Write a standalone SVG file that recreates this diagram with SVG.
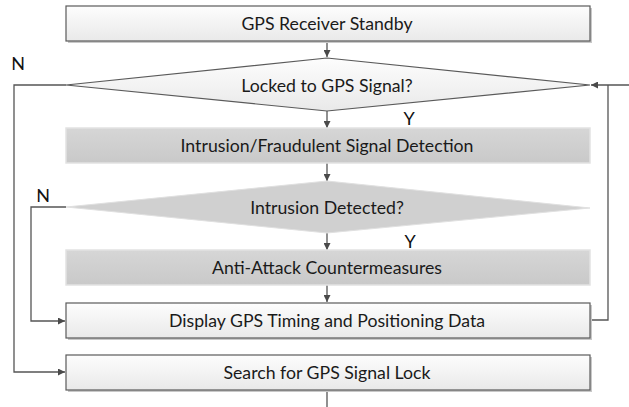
<svg xmlns="http://www.w3.org/2000/svg" width="629" height="407" viewBox="0 0 629 407">
  <defs>
    <linearGradient id="lightFill" x1="0" y1="0" x2="0" y2="1">
      <stop offset="0" stop-color="#fdfdfd"/>
      <stop offset="1" stop-color="#e9e9e9"/>
    </linearGradient>
    <linearGradient id="grayFill" x1="0" y1="0" x2="0" y2="1">
      <stop offset="0" stop-color="#d6d6d6"/>
      <stop offset="1" stop-color="#c9c9c9"/>
    </linearGradient>
    <marker id="arrow" viewBox="0 0 10 10" refX="10" refY="5" markerWidth="7" markerHeight="7" markerUnits="userSpaceOnUse" orient="auto">
      <path d="M0,0 L10,5 L0,10 z" fill="#4a4a4a"/>
    </marker>
  </defs>
  <style>
    .box { fill: url(#lightFill); stroke: #5a5a5a; stroke-width: 1.2; }
    .shadow { fill: #c8c8c8; }
    .gbox { fill: url(#grayFill); stroke: #e2e2e2; stroke-width: 1.5; }
    .dia { fill: url(#lightFill); stroke: #5a5a5a; stroke-width: 1.2; }
    .gdia { fill: #d0d0d0; stroke: #e0e0e0; stroke-width: 1; }
    .lbl { font-family: Lato, "Liberation Sans", sans-serif; font-size: 17.7px; fill: #1a1a1a; text-anchor: middle; }
    .yn { font-family: Lato, "Liberation Sans", sans-serif; font-size: 18px; fill: #111; text-anchor: middle; }
    .conn { fill: none; stroke: #555; stroke-width: 1.3; }
  </style>

  <g id="connectors">
    <line class="conn" x1="327" y1="41" x2="327" y2="57" marker-end="url(#arrow)"/>
    <line class="conn" x1="327" y1="111" x2="327" y2="128" marker-end="url(#arrow)"/>
    <line class="conn" x1="327" y1="163" x2="327" y2="181" marker-end="url(#arrow)"/>
    <line class="conn" x1="327" y1="233" x2="327" y2="250" marker-end="url(#arrow)"/>
    <line class="conn" x1="327" y1="285" x2="327" y2="302" marker-end="url(#arrow)"/>
    <line class="conn" x1="327" y1="390" x2="327" y2="407"/>
    <polyline class="conn" points="66,85 14,85 14,372 65,372" marker-end="url(#arrow)"/>
    <polyline class="conn" points="66,207 31,207 31,321 65,321" marker-end="url(#arrow)"/>
    <polyline class="conn" points="590,320 608,320 608,85"/>
    <line class="conn" x1="629" y1="85" x2="591" y2="85" marker-end="url(#arrow)"/>
  </g>

  <g id="standby">
    <rect class="shadow" x="68" y="8" width="524" height="35"/>
    <rect class="box" x="66" y="6" width="524" height="35"/>
    <text class="lbl" x="327" y="30">GPS Receiver Standby</text>
  </g>

  <g id="locked">
    <polygon class="dia" points="66,85 327,58 590,85 327,111"/>
    <text class="lbl" x="327" y="92">Locked to GPS Signal?</text>
    <text class="yn" x="18" y="70">N</text>
    <text class="yn" x="409" y="125">Y</text>
  </g>

  <g id="detection">
    <rect class="gbox" x="66" y="128" width="524" height="35"/>
    <text class="lbl" x="327" y="152">Intrusion/Fraudulent Signal Detection</text>
  </g>

  <g id="intrusion">
    <polygon class="gdia" points="66,207 327,181 590,208 327,233"/>
    <text class="lbl" x="327" y="214">Intrusion Detected?</text>
    <text class="yn" x="43" y="202">N</text>
    <text class="yn" x="410" y="248">Y</text>
  </g>

  <g id="countermeasures">
    <rect class="gbox" x="66" y="250" width="524" height="35"/>
    <text class="lbl" x="327" y="274">Anti-Attack Countermeasures</text>
  </g>

  <g id="display">
    <rect class="shadow" x="68" y="305" width="524" height="35"/>
    <rect class="box" x="66" y="303" width="524" height="35"/>
    <text class="lbl" x="327" y="327">Display GPS Timing and Positioning Data</text>
  </g>

  <g id="search">
    <rect class="shadow" x="68" y="357" width="524" height="35"/>
    <rect class="box" x="66" y="355" width="524" height="35"/>
    <text class="lbl" x="327" y="379">Search for GPS Signal Lock</text>
  </g>
</svg>
